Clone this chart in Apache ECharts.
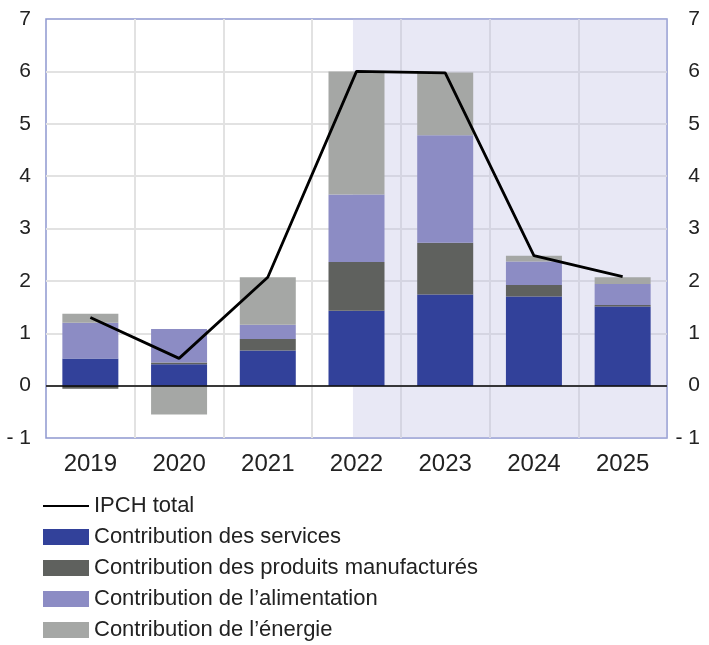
<!DOCTYPE html>
<html lang="fr">
<head>
	<meta charset="UTF-8">
	<title>IPCH contributions</title>
	<script src="https://cdn.jsdelivr.net/npm/echarts@6/dist/echarts.min.js"></script>
	<style>
		html,body{margin:0;padding:0;background:#fff;}
		#chart{width:709px;height:645px;}
	</style>
</head>
<body>
	<div id="chart"></div>
	<script type="text/javascript">
		// données
		var annees = ['2019', '2020', '2021', '2022', '2023', '2024', '2025'];
		var services = [0.52, 0.41, 0.67, 1.43, 1.74, 1.70, 1.51];
		var manufactures = [-0.06, 0.03, 0.22, 0.93, 0.99, 0.22, 0.03];
		var alimentation = [0.68, 0.64, 0.27, 1.29, 2.05, 0.45, 0.40];
		var energie = [0.17, -0.55, 0.91, 2.35, 1.20, 0.11, 0.13];
		var ipchTotal = [1.30, 0.52, 2.07, 6.00, 5.97, 2.48, 2.08];
		var yTicks = [-1, 0, 1, 2, 3, 4, 5, 6, 7];
		// zone de projection (en unités de catégories, 0..7)
		var projectionDebut = 3.46;

		var police = '"Liberation Sans", Arial, sans-serif';
		var fmtY = function (v) { return v < 0 ? '- ' + Math.abs(v) : String(v); };

		function barre(nom, data, couleur) {
			return {
				name: nom, type: 'bar', stack: 'contrib', data: data,
				barWidth: 56, itemStyle: { color: couleur }, z: 2
			};
		}

		var myChart = echarts.init(document.getElementById('chart'));
		var option = {
			animation: false,
			textStyle: { fontFamily: police },
			grid: {
				left: 46, right: 42, top: 19, bottom: 207,
				show: true, borderColor: '#8f98cf', borderWidth: 1.5,
				backgroundColor: 'transparent'
			},
			xAxis: [{
				type: 'category', data: annees,
				axisLine: { show: false }, axisTick: { show: false },
				axisLabel: { fontSize: 24, color: '#222', margin: 14, fontFamily: police },
				splitLine: { show: true, showMinLine: false, showMaxLine: false, lineStyle: { color: '#e2e2e2', width: 2 } }
			}, {
				type: 'value', min: 0, max: 7, show: false
			}],
			yAxis: [{
				type: 'value', min: yTicks[0], max: yTicks[yTicks.length - 1], interval: 1,
				axisLine: { show: false }, axisTick: { show: false },
				axisLabel: { fontSize: 21, color: '#222', margin: 15, formatter: fmtY, fontFamily: police },
				splitLine: { showMinLine: false, showMaxLine: false, lineStyle: { color: '#e2e2e2', width: 2 } }
			}, {
				type: 'value', position: 'right', min: yTicks[0], max: yTicks[yTicks.length - 1], interval: 1,
				axisLine: { show: false }, axisTick: { show: false },
				axisLabel: { fontSize: 21, color: '#222', margin: 33, align: 'right', formatter: fmtY, fontFamily: police },
				splitLine: { show: false }
			}],
			legend: {
				orient: 'vertical', left: 42, top: 495, height: 170, padding: 0,
				itemWidth: 46, itemHeight: 16, itemGap: 9,
				textStyle: { fontSize: 22, color: '#222', lineHeight: 22, fontFamily: police },
				data: [
					{ name: 'IPCH total', itemStyle: { opacity: 0 } },
					{ name: 'Contribution des services', icon: 'rect' },
					{ name: 'Contribution des produits manufacturés', icon: 'rect' },
					{ name: 'Contribution de l\u2019alimentation', icon: 'rect' },
					{ name: 'Contribution de l\u2019énergie', icon: 'rect' }
				]
			},
			series: [
				{
					name: 'projection', type: 'line', xAxisIndex: 1, data: [],
					markArea: {
						silent: true,
						itemStyle: { color: 'rgba(190,190,225,0.35)' },
						data: [[{ xAxis: projectionDebut }, { xAxis: 7 }]]
					}
				},
				barre('Contribution des services', services, '#32419a'),
				barre('Contribution des produits manufacturés', manufactures, '#5f615e'),
				barre('Contribution de l\u2019alimentation', alimentation, '#8c8cc4'),
				barre('Contribution de l\u2019énergie', energie, '#a5a7a5'),
				{
					name: 'IPCH total', type: 'line', data: ipchTotal,
					symbol: 'none', z: 4,
					lineStyle: { color: '#000', width: 2.8 },
					itemStyle: { color: '#000' },
					markLine: {
						silent: true, symbol: 'none', label: { show: false },
						lineStyle: { color: '#000', width: 1.5, type: 'solid' },
						data: [{ yAxis: 0 }]
					}
				}
			]
		};
		myChart.setOption(option);
	</script>
</body>
</html>
